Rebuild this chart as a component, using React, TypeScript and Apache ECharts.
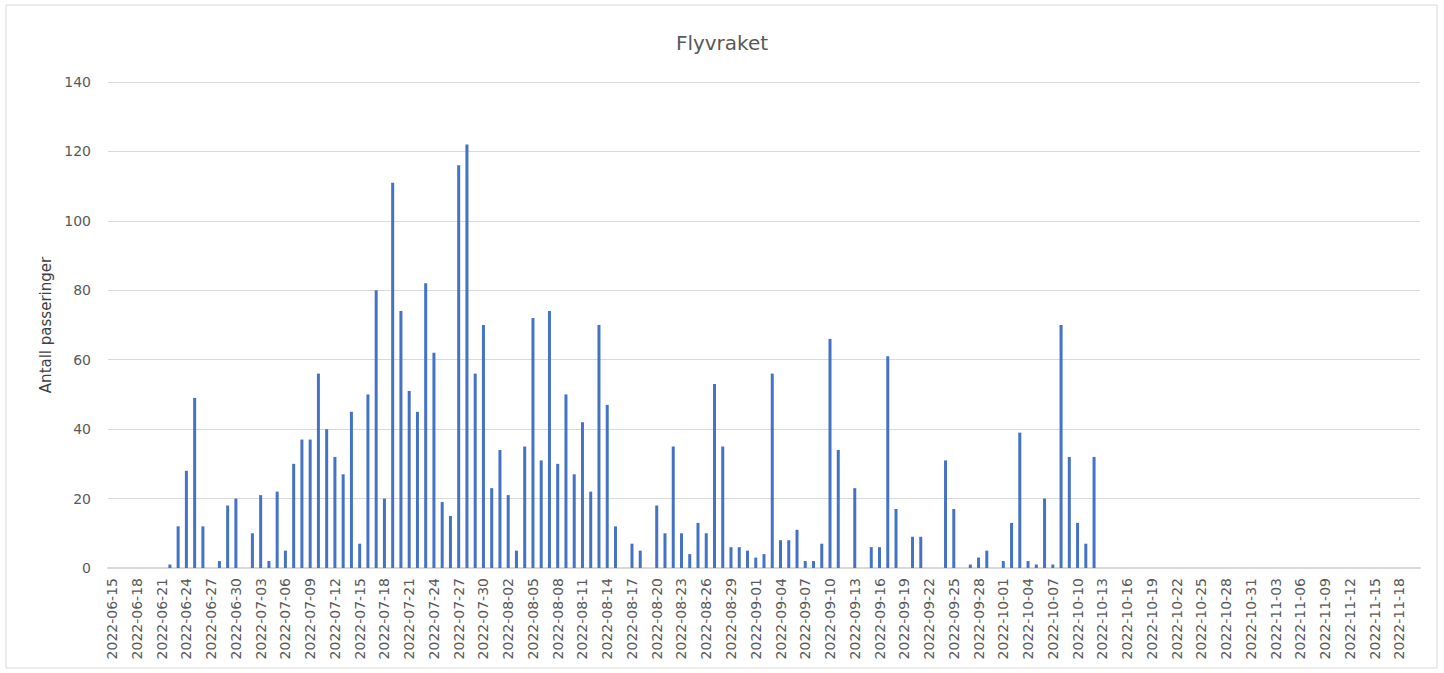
import React, { useEffect, useRef } from "react";
import * as echarts from "echarts";

const TITLE = "Flyvraket";
const Y_NAME = "Antall passeringer";
const START_DATE = "2022-06-15";
const END_DATE = "2022-11-20";
const Y_TICKS = [0, 20, 40, 60, 80, 100, 120, 140];

const passeringer = [
  0, 0, 0, 0, 0, 0, 0, 1, 12, 28, 49, 12, 0, 2, 18, 20,
  0, 10, 21, 2, 22, 5, 30, 37, 37, 56, 40, 32, 27, 45, 7, 50, 80, 20, 111, 74,
  51, 45, 82, 62, 19, 15, 116, 122, 56, 70, 23,
  34, 21, 5, 35, 72, 31, 74, 30, 50, 27, 42, 22, 70, 47, 12, 0, 7, 5, 0, 18,
  10, 35, 10, 4, 13, 10, 53, 35, 6, 6, 5,
  3, 4, 56, 8, 8, 11, 2, 2, 7, 66, 34, 0, 23, 0, 6, 6, 61, 17, 0, 9, 9, 0, 0,
  31, 17, 0, 1, 3, 5, 0,
  2, 13, 39, 2, 1, 20, 1, 70, 32, 13, 7, 32,
  0, 0, 0, 0, 0, 0, 0, 0, 0, 0, 0, 0, 0, 0, 0, 0, 0, 0, 0,
  0, 0, 0, 0, 0, 0, 0, 0, 0, 0, 0, 0, 0, 0, 0, 0, 0, 0, 0, 0,
];

function buildDates(start: string, end: string): string[] {
  const out: string[] = [];
  const d = new Date(start + "T00:00:00Z");
  const e = new Date(end + "T00:00:00Z");
  while (d.getTime() <= e.getTime()) {
    out.push(d.toISOString().slice(0, 10));
    d.setUTCDate(d.getUTCDate() + 1);
  }
  return out;
}

const dates = buildDates(START_DATE, END_DATE);

export default function App() {
  const ref = useRef<HTMLDivElement>(null);
  useEffect(() => {
    if (!ref.current) return;
    const chart = echarts.init(ref.current, null, { renderer: "svg" });
    const font = "DejaVu Sans";
    chart.setOption({
      animation: false,
      backgroundColor: "#ffffff",
      textStyle: { fontFamily: font },
      title: {
        text: TITLE,
        left: "center",
        top: 28,
        textStyle: { fontSize: 20, fontWeight: "normal", color: "#595959", fontFamily: font },
      },
      graphic: [
        {
          type: "rect",
          shape: { x: 6, y: 5, width: 1431, height: 663 },
          style: { fill: "none", stroke: "#d9d9d9", lineWidth: 1 },
          silent: true,
        },
      ],
      grid: { left: 108, right: 24, top: 82, bottom: 105, containLabel: false },
      xAxis: {
        type: "category",
        data: dates,
        boundaryGap: true,
        axisLine: { show: true, lineStyle: { color: "#d9d9d9", width: 2 } },
        axisTick: { show: false },
        axisLabel: {
          interval: 2,
          rotate: 90,
          margin: 10,
          color: "#595959",
          fontSize: 14,
          fontFamily: font,
        },
      },
      yAxis: {
        type: "value",
        min: Y_TICKS[0],
        max: Y_TICKS[Y_TICKS.length - 1],
        interval: Y_TICKS[1] - Y_TICKS[0],
        name: Y_NAME,
        nameLocation: "middle",
        nameGap: 55,
        nameRotate: 90,
        nameTextStyle: { color: "#404040", fontSize: 15, fontFamily: font },
        axisLine: { show: false },
        axisTick: { show: false },
        axisLabel: { color: "#595959", fontSize: 14, margin: 17, fontFamily: font },
        splitLine: { lineStyle: { color: "#d9d9d9", width: 1 } },
      },
      series: [
        {
          type: "bar",
          data: passeringer,
          barWidth: 3,
          itemStyle: { color: "#4472C4" },
        },
      ],
    });
    return () => chart.dispose();
  }, []);
  return (
    <div
      ref={ref}
      style={{ position: "absolute", left: 0, top: 0, width: 1444, height: 673 }}
    />
  );
}
